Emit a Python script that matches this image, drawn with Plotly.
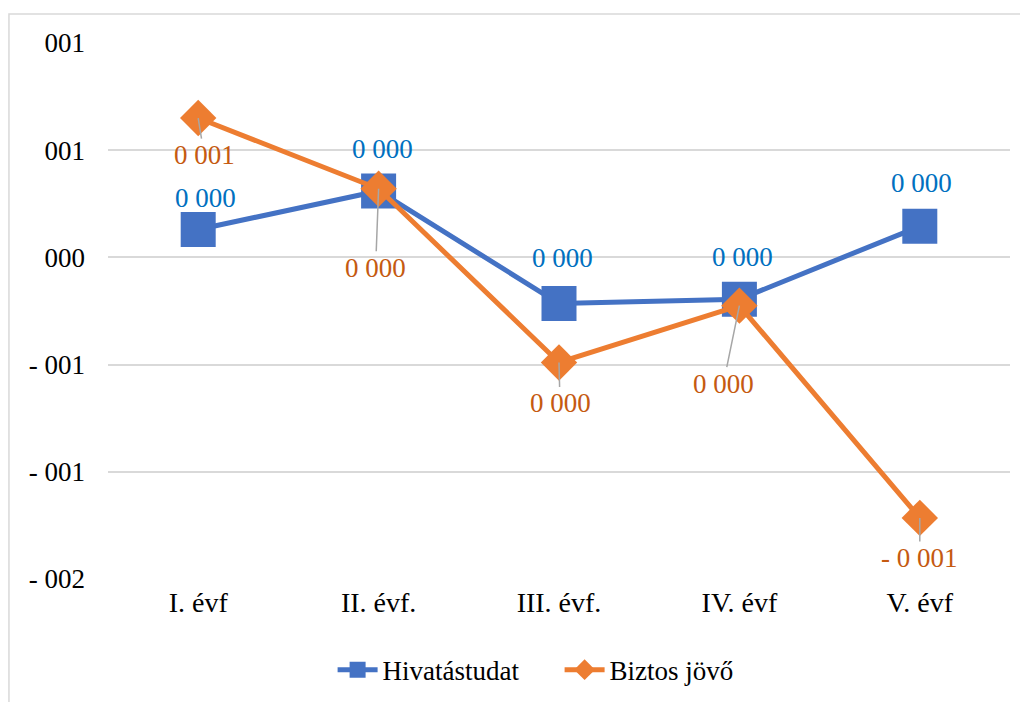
import math

import plotly.graph_objects as go

categories = ["I. évf", "II. évf.", "III. évf.", "IV. évf", "V. évf"]
hivatas = [0.13, 0.31, -0.215, -0.195, 0.145]
biztos = [0.65, 0.32, -0.49, -0.225, -1.215]
tick_vals = [1.0, 0.5, 0.0, -0.5, -1.0, -1.5]

# label offsets (px) relative to the point: (dx, dy)
hivatas_offsets = [(7, -32), (4, -42), (3, -46), (3, -42), (2, -43)]
biztos_offsets = [(6, 37), (-3, 79), (1, 41), (-16, 78), (0, 40)]

FONT = "Liberation Serif, Times New Roman, serif"
BLUE = "#4472C4"
ORANGE = "#ED7D31"


def _round_half_up(v):
    return int(math.floor(abs(v) + 0.5))


def tick_fmt(v):
    n = _round_half_up(v)
    sign = "- " if v < 0 and n != 0 else ""
    return f"{sign}{n:03d}"


def label_fmt(v):
    n = _round_half_up(v)
    sign = "- " if v < 0 and n != 0 else ""
    return f"{sign}{n // 1000} {n % 1000:03d}"


fig = go.Figure()

fig.add_trace(go.Scatter(
    x=categories, y=hivatas, mode="lines+markers", name="Hivatástudat",
    line=dict(color=BLUE, width=5),
    marker=dict(symbol="square", size=35, color=BLUE),
))
fig.add_trace(go.Scatter(
    x=categories, y=biztos, mode="lines+markers", name="Biztos jövő",
    line=dict(color=ORANGE, width=5),
    marker=dict(symbol="diamond", size=28, color=ORANGE),
))

for cat, v, (dx, dy) in zip(categories, hivatas, hivatas_offsets):
    fig.add_annotation(
        x=cat, y=v, text=label_fmt(v), showarrow=False,
        xshift=dx, yshift=-dy,
        font=dict(family=FONT, size=27, color="#0070C0"),
    )

for cat, v, (dx, dy) in zip(categories, biztos, biztos_offsets):
    fig.add_annotation(
        x=cat, y=v, text=label_fmt(v), showarrow=True,
        ax=dx, ay=dy, arrowhead=0, arrowwidth=1.5, arrowcolor="#A6A6A6",
        standoff=0,
        font=dict(family=FONT, size=27, color="#C55A11"),
    )

# chart frame (only left/top edges fall inside the picture)
fig.add_shape(
    type="rect", xref="paper", yref="paper",
    x0=-0.1098, x1=1.1, y0=-0.3, y1=1.054,
    line=dict(color="#D9D9D9", width=1.5), layer="below",
)

fig.update_xaxes(
    range=[-0.5, 4.5], showgrid=False, zeroline=False, showline=False,
    ticks="", ticklabelstandoff=4,
    tickfont=dict(family=FONT, size=28, color="#000000"),
)
fig.update_yaxes(
    range=[-1.5, 1.0], tickvals=tick_vals,
    ticktext=[tick_fmt(v) for v in tick_vals],
    showgrid=True, gridcolor="#D9D9D9", gridwidth=1.5,
    zeroline=False, showline=False, ticks="", ticklabelstandoff=22,
    tickfont=dict(family=FONT, size=27, color="#000000"),
)

fig.update_layout(
    width=1028, height=702,
    margin=dict(l=100, r=26, t=35, b=131),
    paper_bgcolor="white", plot_bgcolor="white",
    showlegend=True,
    legend=dict(
        orientation="h", x=0.249, xanchor="left", y=-0.17, yanchor="middle",
        font=dict(family=FONT, size=27, color="#000000"),
        itemwidth=40, entrywidth=172, entrywidthmode="pixels",
    ),
)

fig.write_html("out.html")
